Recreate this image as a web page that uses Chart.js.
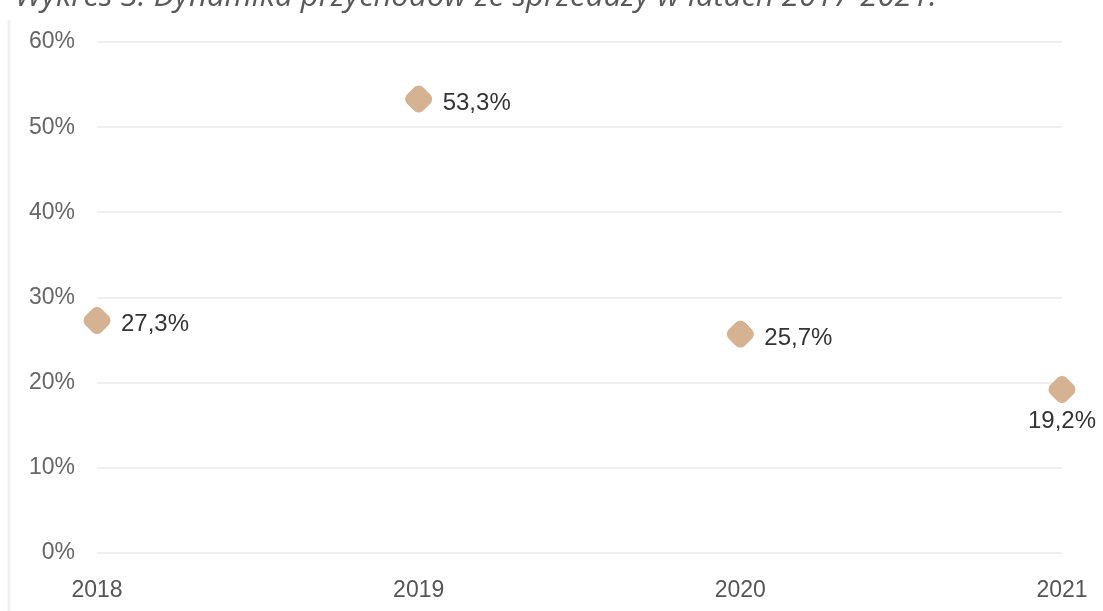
<!DOCTYPE html>
<html>
<head>
<meta charset="utf-8">
<script src="https://cdn.jsdelivr.net/npm/chart.js@4.4.0/dist/chart.umd.min.js"></script>
<style>
  html, body { margin: 0; padding: 0; background: #ffffff; }
  #wrap { width: 1103px; height: 611px; position: relative; }
</style>
</head>
<body>
<div id="wrap"><canvas id="chart" width="1103" height="611"></canvas></div>
<script>
// Revenue growth by year (percent)
const chartTitle = 'Wykres 3. Dynamika przychodów ze sprzedaży w latach 2017-2021.';
const years = ['2018', '2019', '2020', '2021'];
const growth = [27.3, 53.3, 25.7, 19.2];
const yTickStep = 10;
const yMin = 0;
const yMax = 60;

const FONT = '"Liberation Sans", "Open Sans", sans-serif';
const MARKER = '#d4b292';

const fmtPct = v => v.toFixed(1).replace('.', ',') + '%';

// Page frame: white background, cut-off caption at the top, faint left edge
const framePlugin = {
  id: 'frame',
  beforeDraw(chart) {
    const ctx = chart.ctx;
    ctx.save();
    ctx.fillStyle = '#ffffff';
    ctx.fillRect(0, 0, chart.width, chart.height);

    ctx.strokeStyle = '#f1f1f1';
    ctx.lineWidth = 3;
    ctx.beginPath();
    ctx.moveTo(9, 20);
    ctx.lineTo(9, chart.height);
    ctx.stroke();

    let size = 30;
    ctx.font = 'italic ' + size + 'px "Open Sans", "Liberation Sans", sans-serif';
    const w = ctx.measureText(chartTitle).width;
    size = size * 922 / w;
    ctx.font = 'italic ' + size.toFixed(2) + 'px "Open Sans", "Liberation Sans", sans-serif';
    ctx.fillStyle = '#5a5a5a';
    ctx.textBaseline = 'alphabetic';
    ctx.textAlign = 'left';
    ctx.fillText(chartTitle, 15, 6);
    ctx.restore();
  }
};

// Value labels next to each marker (last one sits below its marker)
const valueLabels = {
  id: 'valueLabels',
  afterDatasetsDraw(chart) {
    const ctx = chart.ctx;
    const meta = chart.getDatasetMeta(0);
    const data = chart.data.datasets[0].data;
    ctx.save();
    ctx.font = '24px ' + FONT;
    ctx.fillStyle = '#333333';
    ctx.textBaseline = 'middle';
    meta.data.forEach((pt, i) => {
      const txt = fmtPct(data[i]);
      if (i === meta.data.length - 1) {
        ctx.textAlign = 'center';
        ctx.fillText(txt, pt.x, pt.y + 32);
      } else {
        ctx.textAlign = 'left';
        ctx.fillText(txt, pt.x + 24, pt.y + 4);
      }
    });
    ctx.restore();
  }
};

new Chart(document.getElementById('chart'), {
  type: 'line',
  data: {
    labels: years,
    datasets: [{
      data: growth,
      showLine: false,
      pointStyle: 'rectRounded',
      rotation: 45,
      pointRadius: 13,
      pointHoverRadius: 13,
      pointBackgroundColor: MARKER,
      pointBorderColor: MARKER,
      pointBorderWidth: 1,
      clip: false
    }]
  },
  options: {
    responsive: false,
    devicePixelRatio: 1,
    animation: false,
    events: [],
    layout: { padding: { top: 42, right: 41, left: 0, bottom: 0 } },
    plugins: {
      legend: { display: false },
      tooltip: { enabled: false },
      title: { display: false }
    },
    scales: {
      x: {
        type: 'category',
        offset: false,
        grid: { display: false, drawTicks: false },
        border: { display: false },
        ticks: {
          color: '#555555',
          font: { family: FONT, size: 23 },
          padding: 24,
          maxRotation: 0,
          autoSkip: false
        },
        afterFit(scale) {
          scale.height = 58;
          scale.paddingLeft = 0;
          scale.paddingRight = 0;
        }
      },
      y: {
        min: yMin,
        max: yMax,
        grid: { color: '#efefef', lineWidth: 2, drawTicks: false },
        border: { display: false },
        ticks: {
          stepSize: yTickStep,
          color: '#666666',
          font: { family: FONT, size: 23 },
          padding: 22,
          callback: v => v + '%'
        },
        afterFit(scale) {
          scale.width = 97;
          scale.paddingTop = 0;
          scale.paddingBottom = 0;
        }
      }
    }
  },
  plugins: [framePlugin, valueLabels]
});
</script>
</body>
</html>
